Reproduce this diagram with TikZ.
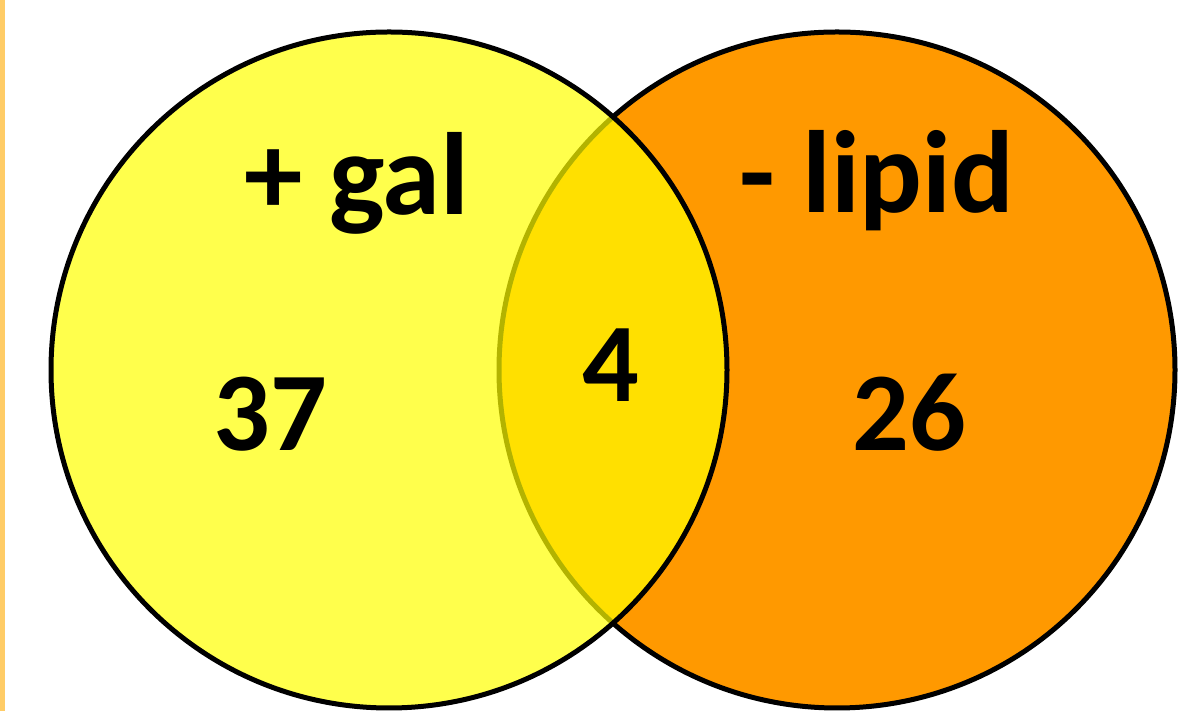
\documentclass[tikz,border=0pt]{standalone}
\usepackage{fontspec}
\setmainfont{Carlito}
\usepackage{tikz}
\definecolor{galyellow}{RGB}{255,255,0}
\definecolor{lipidorange}{RGB}{255,153,0}
\definecolor{edgebar}{RGB}{255,204,102}
\tikzset{set/.style={circle, draw=black, line width=5pt, minimum size=676pt, inner sep=0pt}}
\tikzset{lab/.style={anchor=base, inner sep=0pt, font=\fontsize{112}{120}\selectfont\bfseries}}
\tikzset{head/.style={lab, font=\fontsize{117}{120}\selectfont\bfseries}}

\begin{document}
\begin{tikzpicture}[x=1pt,y=1pt]
\useasboundingbox (0,0) rectangle (1187,711);
\fill[edgebar] (0,0) rectangle (5,711);
\node [set, fill=lipidorange] (lipid) at (837,341) {};
\node [set, fill=galyellow, fill opacity=0.7] (gal) at (389,341) {};
\node [head] (tgal) at (357,496) {+ gal};
\node [head] (tlipid) at (877,498) {- lipid};
\node [lab] (ngal) at (270,260) {37};
\node [lab] (nboth) at (611,309) {4};
\node [lab] (nlipid) at (909,260) {26};
\end{tikzpicture}
\end{document}
